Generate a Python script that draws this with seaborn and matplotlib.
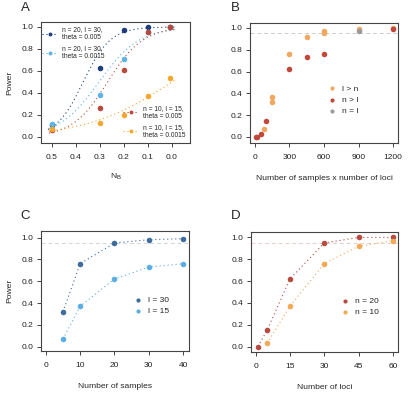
import numpy as np
import pandas as pd
import matplotlib
matplotlib.use("Agg")
import matplotlib.pyplot as plt
import seaborn as sns
from matplotlib.lines import Line2D

# ---- data ----
# A: power vs N_B
ne = [0.5, 0.3, 0.2, 0.1, 0.01]
a_n20_t005 = [0.11, 0.63, 0.97, 1.0, 1.0]
a_n20_t0015 = [0.12, 0.38, 0.71, 0.95, 1.0]
a_n10_t005 = [0.06, 0.26, 0.61, 0.95, 1.0]
a_n10_t0015 = [0.07, 0.13, 0.20, 0.37, 0.54]
a_labels = ["n = 20, l = 30,\ntheta = 0.005", "n = 20, l = 30,\ntheta = 0.0015",
            "n = 10, l = 15,\ntheta = 0.005", "n = 10, l = 15,\ntheta = 0.0015"]

# B: power vs samples x loci
b_lgn_x = [75, 150, 150, 300, 450, 600, 600, 900, 1200]
b_lgn_y = [0.07, 0.37, 0.32, 0.76, 0.92, 0.97, 0.95, 0.99, 1.0]
b_ngl_x = [10, 20, 50, 100, 300, 450, 600, 1200]
b_ngl_y = [0.0, 0.0, 0.03, 0.15, 0.62, 0.73, 0.76, 0.99]
b_eq_x = [900]
b_eq_y = [0.97]

# C: power vs number of samples
c_n = [5, 10, 20, 30, 40]
c_l30 = [0.32, 0.76, 0.95, 0.98, 0.99]
c_l15 = [0.07, 0.37, 0.62, 0.73, 0.76]

# D: power vs number of loci
d_l20 = [1, 5, 15, 30, 45, 60]
d_n20 = [0.0, 0.15, 0.62, 0.95, 1.0, 1.0]
d_l10 = [5, 15, 30, 45, 60]
d_n10 = [0.03, 0.37, 0.76, 0.92, 0.97]

sns.set_style("ticks")
plt.rcParams["font.family"] = ["Liberation Sans", "DejaVu Sans"]
plt.rcParams["mathtext.default"] = "regular"
plt.rcParams["axes.edgecolor"] = "#444444"
plt.rcParams["xtick.color"] = "#444444"
plt.rcParams["ytick.color"] = "#444444"
plt.rcParams["xtick.labelcolor"] = "#222222"
plt.rcParams["ytick.labelcolor"] = "#222222"

W, H = 408, 395
fig = plt.figure(figsize=(W / 100, H / 100), dpi=100)

TICK = 6.0
LAB = 6.1
LETTER = 9.5
DOT = (0, (1, 2.6))


def box(l, t, r, b):
    return [l / W, 1 - b / H, (r - l) / W, (b - t) / H]


def style(ax):
    for s in ax.spines.values():
        s.set_visible(True)
        s.set_linewidth(0.8)
    ax.tick_params(labelsize=TICK, length=3, width=0.7, pad=2.5)
    ax.tick_params(axis="x", pad=5)
    ax.set_yticks([0, 0.2, 0.4, 0.6, 0.8, 1.0])
    ax.set_yticklabels(["0.0", "0.2", "0.4", "0.6", "0.8", "1.0"])


def logistic_fit(x, y, xs):
    x = np.asarray(x)
    y = np.asarray(y)
    m = (y > 0) & (y < 0.99)
    k, c = np.polyfit(x[m], np.log(y[m] / (1 - y[m])), 1)
    return 1 / (1 + np.exp(-(k * xs + c)))


# ---------- A ----------
axA = fig.add_axes(box(41, 22, 190, 143))
colsA = ["#1f3d7c", "#5cb3e6", "#b8493b", "#f4a72e"]
seriesA = [a_n20_t005, a_n20_t0015, a_n10_t005, a_n10_t0015]
xs = np.linspace(0.52, -0.01, 200)
for ys, col in zip(seriesA, colsA):
    sns.lineplot(x=xs, y=logistic_fit(ne, ys, xs), ax=axA, color=col,
                 linestyle=DOT, linewidth=0.8)
for ys, col in zip(seriesA, colsA):
    sns.scatterplot(x=ne, y=ys, ax=axA, color=col, s=16, linewidth=0, zorder=3)
axA.set_xlim(0.545, -0.075)
axA.set_ylim(-0.055, 1.045)
axA.set_xticks([0.5, 0.4, 0.3, 0.2, 0.1, 0.0])
axA.set_xticklabels(["0.5", "0.4", "0.3", "0.2", "0.1", "0.0"])
style(axA)
axA.set_ylabel("Power", fontsize=LAB, labelpad=6)
axA.set_xlabel("N$_B$", fontsize=LAB, labelpad=8)
hA = [Line2D([0], [0], color=c, linestyle=DOT, linewidth=0.8,
             marker="o", markersize=2.8, markeredgewidth=0) for c in colsA]
lg1 = axA.legend(hA[:2], a_labels[:2], loc="upper left", frameon=False,
                 fontsize=4.8, handlelength=2.2, labelspacing=0.6,
                 borderaxespad=0.25, handletextpad=0.8, bbox_to_anchor=(-0.02, 1.0))
axA.add_artist(lg1)
axA.legend(hA[2:], a_labels[2:], loc="lower right", frameon=False,
           fontsize=4.8, handlelength=2.2, labelspacing=0.6,
           borderaxespad=0.25, handletextpad=0.8, bbox_to_anchor=(1.0, 0.0))
fig.text(21 / W, 1 - 8 / H, "A", fontsize=LETTER, va="center")

# ---------- B ----------
axB = fig.add_axes(box(250, 23, 398, 143))
axB.axhline(0.95, color="#cccccc", linestyle=(0, (4, 3)), linewidth=0.7, zorder=1)
sns.scatterplot(x=b_lgn_x, y=b_lgn_y, ax=axB, color="#f0a75e", s=16, linewidth=0,
                label="l > n", zorder=3)
sns.scatterplot(x=b_ngl_x, y=b_ngl_y, ax=axB, color="#c0483b", s=16, linewidth=0,
                label="n > l", zorder=3)
sns.scatterplot(x=b_eq_x, y=b_eq_y, ax=axB, color="#9a9a9a", s=16, linewidth=0,
                label="n = l", zorder=3)
axB.set_xlim(-43, 1243)
axB.set_ylim(-0.055, 1.045)
axB.set_xticks([0, 300, 600, 900, 1200])
style(axB)
axB.set_xlabel("Number of samples x number of loci", fontsize=LAB, labelpad=10)
axB.legend(loc="center left", frameon=False, fontsize=6, handletextpad=0.2,
           labelspacing=0.4, markerscale=0.75, bbox_to_anchor=(0.45, 0.36))
fig.text(231 / W, 1 - 8 / H, "B", fontsize=LETTER, va="center")

# ---------- C ----------
axC = fig.add_axes(box(41, 231, 189, 351))
axC.axhline(0.95, color="#cfd6dc", linestyle=(0, (4, 3)), linewidth=0.7, zorder=1)
for ys, col, lab in [(c_l30, "#3e6c9f", "l = 30"), (c_l15, "#5aaee3", "l = 15")]:
    sns.lineplot(x=c_n, y=ys, ax=axC, color=col, linestyle=DOT,
                 linewidth=0.8, legend=False)
    sns.scatterplot(x=c_n, y=ys, ax=axC, color=col, s=16, linewidth=0,
                    label=lab, zorder=3)
axC.set_xlim(-1.4, 41.7)
axC.set_ylim(-0.04, 1.06)
axC.set_xticks([0, 10, 20, 30, 40])
style(axC)
axC.set_ylabel("Power", fontsize=LAB, labelpad=6)
axC.set_xlabel("Number of samples", fontsize=LAB, labelpad=10)
axC.legend(loc="center left", frameon=False, fontsize=6, handletextpad=0.2,
           labelspacing=0.4, markerscale=0.75, bbox_to_anchor=(0.55, 0.38))
fig.text(20 / W, 1 - 216 / H, "C", fontsize=LETTER, va="center")

# ---------- D ----------
axD = fig.add_axes(box(251, 232, 398, 352))
axD.axhline(0.95, color="#e6cfcb", linestyle=(0, (4, 3)), linewidth=0.7, zorder=1)
for xv, ys, col, lab in [(d_l20, d_n20, "#b94a3e", "n = 20"),
                         (d_l10, d_n10, "#f4a955", "n = 10")]:
    sns.lineplot(x=xv, y=ys, ax=axD, color=col, linestyle=DOT,
                 linewidth=0.8, legend=False)
    sns.scatterplot(x=xv, y=ys, ax=axD, color=col, s=16, linewidth=0,
                    label=lab, zorder=3)
axD.set_xlim(-2.05, 62.2)
axD.set_ylim(-0.05, 1.05)
axD.set_xticks([0, 15, 30, 45, 60])
style(axD)
axD.set_xlabel("Number of loci", fontsize=LAB, labelpad=10)
axD.legend(loc="center left", frameon=False, fontsize=6, handletextpad=0.2,
           labelspacing=0.4, markerscale=0.75, bbox_to_anchor=(0.53, 0.38))
fig.text(231 / W, 1 - 216 / H, "D", fontsize=LETTER, va="center")

fig.savefig("out.png", dpi=100)
